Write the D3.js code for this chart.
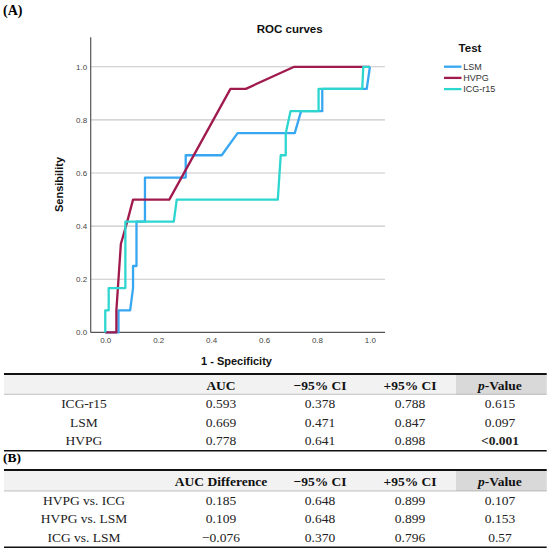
<!DOCTYPE html>
<html>
<head>
<meta charset="utf-8">
<script src="https://cdn.jsdelivr.net/npm/d3@7"></script>
<style>
  body { margin: 0; background: #fff; }
  .tick text { font-family: "Liberation Sans", Arial, sans-serif; }
</style>
</head>
<body>
<script>
// ROC curve points (1 - specificity, sensitivity)
var lsmFpr = [0, 0.05, 0.05, 0.094, 0.105, 0.105, 0.118, 0.118, 0.15, 0.15, 0.304, 0.304, 0.44, 0.5, 0.716, 0.74, 0.82, 0.82, 0.988, 1];
var lsmTpr = [0, 0, 0.083, 0.083, 0.167, 0.25, 0.25, 0.417, 0.417, 0.583, 0.583, 0.667, 0.667, 0.75, 0.75, 0.833, 0.833, 0.917, 0.917, 1];

var hvpgFpr = [0, 0.042, 0.042, 0.059, 0.083, 0.105, 0.242, 0.473, 0.531, 0.714, 1];
var hvpgTpr = [0, 0, 0.083, 0.333, 0.417, 0.5, 0.5, 0.917, 0.917, 1, 1];

var icgFpr = [0, 0, 0.013, 0.013, 0.076, 0.076, 0.259, 0.27, 0.652, 0.663, 0.682, 0.682, 0.7, 0.806, 0.806, 0.971, 0.975, 1];
var icgTpr = [0, 0.083, 0.083, 0.167, 0.167, 0.417, 0.417, 0.5, 0.5, 0.667, 0.667, 0.75, 0.833, 0.833, 0.917, 0.917, 1, 1];

var axisTicks = [0, 0.2, 0.4, 0.6, 0.8, 1.0];
var gridTicks = [0.2, 0.4, 0.6, 0.8, 1.0];

var testNames = ["LSM", "HVPG", "ICG-r15"];
var testColors = ["#38a7f2", "#a01a4e", "#2dd6cf"];

// Table (A)
var headA = ["", "AUC", "\u221295% CI", "+95% CI", "p-Value"];
var rowsA = ["ICG-r15", "LSM", "HVPG"];
var aucA = ["0.593", "0.669", "0.778"];
var lowA = ["0.378", "0.471", "0.641"];
var highA = ["0.788", "0.847", "0.898"];
var pA = ["0.615", "0.097", "<0.001"];

// Table (B)
var headB = ["", "AUC Difference", "\u221295% CI", "+95% CI", "p-Value"];
var rowsB = ["HVPG vs. ICG", "HVPG vs. LSM", "ICG vs. LSM"];
var aucB = ["0.185", "0.109", "\u22120.076"];
var lowB = ["0.648", "0.648", "0.370"];
var highB = ["0.899", "0.899", "0.796"];
var pB = ["0.107", "0.153", "0.57"];

var svg = d3.select("body").append("svg")
  .attr("width", 550)
  .attr("height", 552);

var sans = "'Liberation Sans', Arial, sans-serif";
var serif = "'Liberation Serif', 'Times New Roman', serif";

// Panel label
svg.append("text")
  .attr("x", 3)
  .attr("y", 15)
  .attr("font-family", serif)
  .attr("font-weight", "bold")
  .attr("font-size", 14)
  .text("(A)");

// Scales
var x = d3.scaleLinear().domain([-0.055, 1.057]).range([90.7, 385]);
var y = d3.scaleLinear().domain([0, 1.111]).range([332.4, 37.3]);

// Title
svg.append("text")
  .attr("x", 289.7)
  .attr("y", 33.3)
  .attr("text-anchor", "middle")
  .attr("font-family", sans)
  .attr("font-weight", "bold")
  .attr("font-size", 11.5)
  .attr("fill", "#111")
  .text("ROC curves");

// Gridlines
svg.append("g").selectAll("line")
  .data(gridTicks)
  .enter()
  .append("line")
  .attr("x1", x.range()[0])
  .attr("x2", x.range()[1])
  .attr("y1", d => y(d))
  .attr("y2", d => y(d))
  .attr("stroke", "#c8c8c8")
  .attr("stroke-width", 1.1);

// Axes
var leftAxis = d3.axisLeft(y).tickValues(axisTicks).tickSize(0).tickPadding(3.5).tickFormat(d3.format(".1f"));
var bottomAxis = d3.axisBottom(x).tickValues(axisTicks).tickSize(0).tickPadding(5.2).tickFormat(d3.format(".1f"));

var yAxis = svg.append("g")
  .attr("transform", `translate(${x.range()[0]}, 0)`)
  .call(leftAxis);
var xAxis = svg.append("g")
  .attr("transform", `translate(0, ${y(0)})`)
  .call(bottomAxis);

[yAxis, xAxis].forEach(function(ax) {
  ax.select(".domain").remove();
  ax.selectAll("text").attr("font-size", 8).attr("fill", "#444");
});

svg.append("line")
  .attr("x1", x.range()[0]).attr("x2", x.range()[0])
  .attr("y1", y.range()[1]).attr("y2", y(0))
  .attr("stroke", "#555").attr("stroke-width", 1.2);
svg.append("line")
  .attr("x1", x.range()[0]).attr("x2", x.range()[1])
  .attr("y1", y(0)).attr("y2", y(0))
  .attr("stroke", "#555").attr("stroke-width", 1.4);

// Axis labels
svg.append("text")
  .attr("transform", "translate(63, 184.5) rotate(-90)")
  .attr("text-anchor", "middle")
  .attr("font-family", sans)
  .attr("font-weight", "bold")
  .attr("font-size", 11)
  .attr("fill", "#111")
  .text("Sensibility");

svg.append("text")
  .attr("x", 236.5)
  .attr("y", 365)
  .attr("text-anchor", "middle")
  .attr("font-family", sans)
  .attr("font-weight", "bold")
  .attr("font-size", 11)
  .attr("fill", "#111")
  .text("1 - Specificity");

// Curves
var line = d3.line().x(d => x(d[0])).y(d => y(d[1]));
var curves = [
  d3.zip(lsmFpr, lsmTpr),
  d3.zip(hvpgFpr, hvpgTpr),
  d3.zip(icgFpr, icgTpr)
];
svg.append("g").selectAll("path")
  .data(curves)
  .enter()
  .append("path")
  .attr("d", line)
  .attr("fill", "none")
  .attr("stroke", (d, i) => testColors[i])
  .attr("stroke-width", 2.3)
  .attr("stroke-linejoin", "round");

// Legend
svg.append("text")
  .attr("x", 470)
  .attr("y", 51.7)
  .attr("text-anchor", "middle")
  .attr("font-family", sans)
  .attr("font-weight", "bold")
  .attr("font-size", 11.5)
  .attr("fill", "#111")
  .text("Test");

var legend = svg.append("g").selectAll("g")
  .data(testNames)
  .enter()
  .append("g")
  .attr("transform", (d, i) => `translate(444, ${66.7 + i * 11.2})`);
legend.append("line")
  .attr("x1", 0).attr("x2", 17.5)
  .attr("stroke", (d, i) => testColors[i])
  .attr("stroke-width", 2.3);
legend.append("text")
  .attr("x", 19.3)
  .attr("dy", "0.35em")
  .attr("font-family", sans)
  .attr("font-size", 9)
  .attr("fill", "#333")
  .text(d => d);

// Tables
var colCenters = [84, 221, 320, 410, 500];
var tableLeft = 4, tableRight = 546.7;

function drawTable(top, headerBottom, bottom, head, rowNames, cols, boldCell) {
  var g = svg.append("g");
  g.append("rect")
    .attr("x", tableLeft).attr("y", top)
    .attr("width", tableRight - tableLeft).attr("height", headerBottom - top)
    .attr("fill", "#f2f2f2");
  g.append("rect")
    .attr("x", 456).attr("y", top)
    .attr("width", tableRight - 456).attr("height", headerBottom - top)
    .attr("fill", "#d9d9d9");
  g.append("line")
    .attr("x1", tableLeft).attr("x2", tableRight)
    .attr("y1", top).attr("y2", top)
    .attr("stroke", "#111").attr("stroke-width", 2);
  g.append("line")
    .attr("x1", tableLeft).attr("x2", tableRight)
    .attr("y1", headerBottom).attr("y2", headerBottom)
    .attr("stroke", "#999").attr("stroke-width", 0.6);
  g.append("line")
    .attr("x1", tableLeft).attr("x2", tableRight)
    .attr("y1", bottom).attr("y2", bottom)
    .attr("stroke", "#111").attr("stroke-width", 1.6);

  // header
  var hText = g.selectAll(".head")
    .data(head)
    .enter()
    .append("text")
    .attr("class", "head")
    .attr("x", (d, i) => colCenters[i])
    .attr("y", headerBottom - 4.8)
    .attr("text-anchor", "middle")
    .attr("font-family", serif)
    .attr("font-weight", "bold")
    .attr("font-size", 13.5)
    .attr("fill", "#111");
  hText.each(function(d) {
    var t = d3.select(this);
    if (d === "p-Value") {
      t.append("tspan").attr("font-style", "italic").text("p");
      t.append("tspan").text("-Value");
    } else {
      t.text(d);
    }
  });

  // body rows
  rowNames.forEach(function(name, r) {
    var cells = [name].concat(cols.map(c => c[r]));
    g.selectAll(".row" + r)
      .data(cells)
      .enter()
      .append("text")
      .attr("x", (d, i) => colCenters[i])
      .attr("y", headerBottom + 14 + r * 18.3)
      .attr("text-anchor", "middle")
      .attr("font-family", serif)
      .attr("font-size", 13.5)
      .attr("font-weight", (d, i) => (boldCell && boldCell[0] === r && boldCell[1] === i) ? "bold" : "normal")
      .attr("fill", "#222")
      .text(d => d);
  });
}

drawTable(374, 394.3, 450.7, headA, rowsA, [aucA, lowA, highA, pA], [2, 4]);

svg.append("text")
  .attr("x", 3)
  .attr("y", 462)
  .attr("font-family", serif)
  .attr("font-weight", "bold")
  .attr("font-size", 13.5)
  .text("(B)");

drawTable(470, 491, 547.3, headB, rowsB, [aucB, lowB, highB, pB], null);
</script>
</body>
</html>
